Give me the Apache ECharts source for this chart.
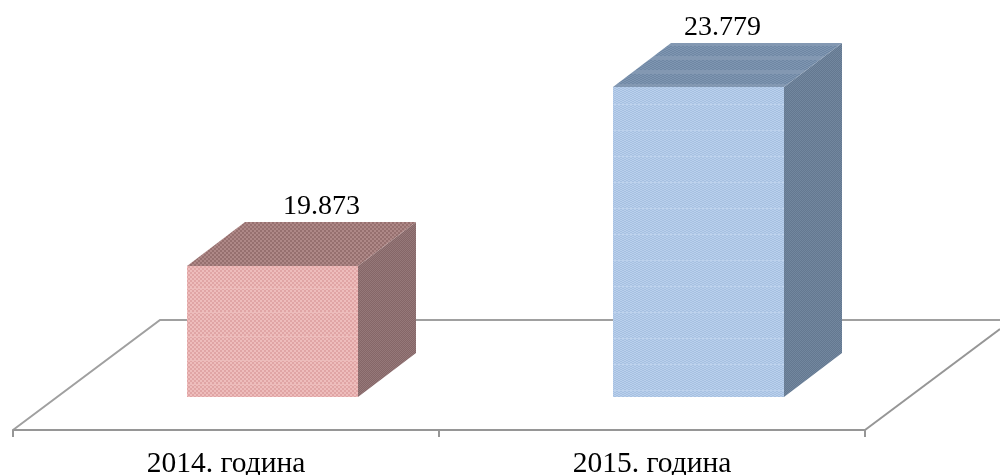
<!DOCTYPE html>
<html lang="en">
<head>
    <meta http-equiv="Content-Type" content="text/html; charset=UTF-8">
    <title>2014 - 2015</title>
    <script type="text/javascript" src="https://cdn.jsdelivr.net/npm/echarts@6/dist/echarts.min.js"></script>
    <style>
        html, body { margin: 0; padding: 0; background: #fff; }
    </style>
</head>
<body>
<div id="main" style="width: 1000px; height: 475px"></div>

<script type="text/javascript">
    var categories = ['2014. година', '2015. година'];
    var totals = [19873, 23779];

    // small repeating textures for the faces of the boxes, with optional lighter bands
    function makePattern(bg, dot, w, h, bandEvery, bandSize, bandColor) {
        var rows = bandEvery || h;
        var c = document.createElement('canvas');
        c.width = w;
        c.height = rows;
        var ctx = c.getContext('2d');
        ctx.fillStyle = bg;
        ctx.fillRect(0, 0, w, rows);
        ctx.fillStyle = dot;
        for (var y = 0; y < rows; y += h) {
            ctx.fillRect(0, y, w / 2, h / 2);
            ctx.fillRect(w / 2, y + h / 2, w / 2, h / 2);
        }
        if (bandEvery) {
            ctx.fillStyle = bandColor;
            ctx.fillRect(0, 0, w, bandSize);
        }
        return { image: c, repeat: 'repeat' };
    }

    var faces = [
        {
            front: makePattern('#e0a5a5', '#eebdbc', 4, 4, 24, 1, '#ecbcbb'),
            top: makePattern('#96706f', '#ae8887', 4, 4),
            side: makePattern('#856667', '#957879', 2, 2)
        },
        {
            front: makePattern('#a6c0e1', '#bad0ec', 4, 2, 26, 1, '#bcd1ec'),
            top: makePattern('#6f87a4', '#7f96b1', 4, 2, 14, 4, '#8398b2'),
            side: makePattern('#647890', '#72879f', 2, 2)
        }
    ];

    var depthX = 58, depthY = 44;     // oblique depth of a box
    var floorLift = 33;               // boxes stand on the floor, above the axis line
    var boxWidth = 171;
    var boxShift = 46;
    var labelShift = [49, 24];        // the value labels sit at different spots on each box

    function formatValue(v) {
        return String(v).replace(/\B(?=(\d{3})+$)/g, '.');
    }

    function renderBox(params, api) {
        var i = api.value(0);
        var base = api.coord([i, 17000]);
        var head = api.coord([i, api.value(1)]);
        var x0 = Math.round(base[0] + boxShift - boxWidth / 2);
        var x1 = x0 + boxWidth;
        var y0 = Math.round(head[1] - floorLift);
        var y1 = base[1] - floorLift;
        var f = faces[i];
        return {
            type: 'group',
            children: [
                {
                    type: 'polygon',
                    shape: { points: [[x1, y0], [x1 + depthX, y0 - depthY], [x1 + depthX, y1 - depthY], [x1, y1]] },
                    style: { fill: f.side }
                },
                {
                    type: 'polygon',
                    shape: { points: [[x0, y0], [x0 + depthX, y0 - depthY], [x1 + depthX, y0 - depthY], [x1, y0]] },
                    style: { fill: f.top }
                },
                {
                    type: 'rect',
                    shape: { x: x0, y: y0, width: boxWidth, height: y1 - y0 },
                    style: { fill: f.front }
                },
                {
                    type: 'text',
                    style: {
                        x: (x0 + x1) / 2 + labelShift[i],
                        y: y0 - depthY - 1,
                        text: formatValue(api.value(1)),
                        align: 'center',
                        verticalAlign: 'bottom',
                        fill: '#000',
                        font: '28px "Liberation Serif"'
                    }
                }
            ]
        };
    }

    var myChart = echarts.init(document.getElementById('main'));

    myChart.setOption({
        animation: false,
        grid: { left: 13, width: 852, top: 64, height: 366, outerBoundsMode: 'none' },
        xAxis: {
            type: 'category',
            data: categories,
            axisLine: { lineStyle: { color: '#969696', width: 2 } },
            axisTick: { show: true, length: 7, lineStyle: { color: '#969696', width: 2 } },
            axisLabel: {
                color: '#000',
                fontFamily: 'Liberation Serif',
                fontSize: 29.5,
                margin: 19
            }
        },
        yAxis: { type: 'value', min: 17000, max: 25000, show: false },
        // floor outline behind the boxes
        graphic: [
            {
                type: 'polyline',
                z: 0,
                shape: { points: [[13, 430], [160, 320], [1000, 320]] },
                style: { stroke: '#a0a0a0', lineWidth: 2, fill: null }
            },
            {
                type: 'line',
                z: 0,
                shape: { x1: 865, y1: 430, x2: 1000, y2: 329 },
                style: { stroke: '#969696', lineWidth: 2 }
            }
        ],
        series: [{
            type: 'custom',
            z: 5,
            clip: false,
            renderItem: renderBox,
            encode: { x: 0, y: 1 },
            data: totals.map(function (v, i) { return [i, v]; })
        }]
    });
</script>
</body>
</html>
